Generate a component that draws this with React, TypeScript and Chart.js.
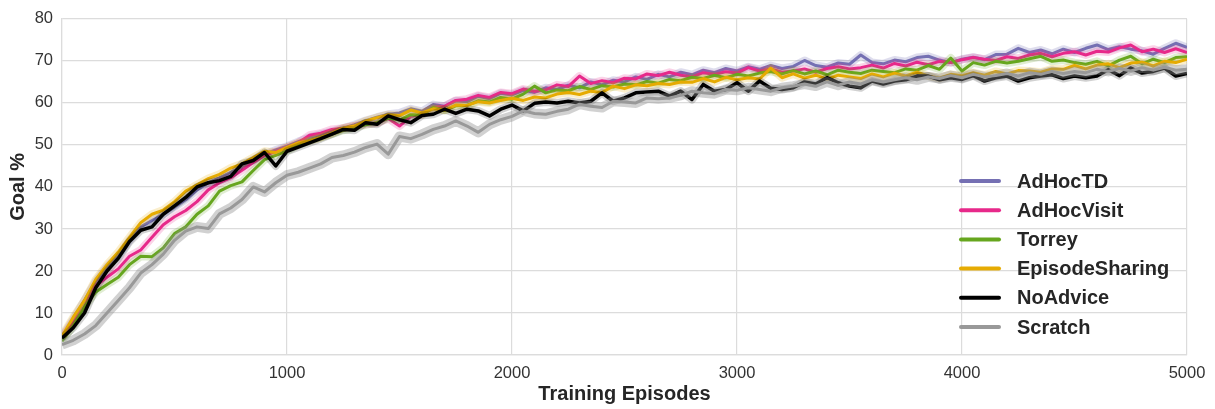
import React, { useEffect, useRef } from "react";
import { Chart, registerables } from "chart.js";

Chart.register(...registerables);

const FONT = "'Liberation Sans', Arial, Helvetica, sans-serif";

const SERIES_NAMES = ["AdHocTD", "AdHocVisit", "Torrey", "EpisodeSharing", "NoAdvice", "Scratch"];
const SERIES_COLORS = ["#7570b3", "#e7298a", "#66a61e", "#e6ab02", "#000000", "#999999"];
const BAND_COLORS = [
  "rgba(117,112,179,0.24)",
  "rgba(231,41,138,0.20)",
  "rgba(102,166,30,0.20)",
  "rgba(230,171,2,0.20)",
  "rgba(0,0,0,0.18)",
  "rgba(140,140,140,0.40)",
];
const BAND_WIDTHS = [8, 8, 8, 8, 8, 10];
const LINE_WIDTHS = [3, 3, 3, 3, 3.5, 3];

const EPISODE_STEP = 50;
const X_TICKS = [0, 1000, 2000, 3000, 4000, 5000];
const Y_TICKS = [0, 10, 20, 30, 40, 50, 60, 70, 80];

const adHocTD = [
  4.2, 8.5, 13, 17.5, 21, 23.5, 27.3, 30.5, 32, 33.5,
  35.2, 37, 39.3, 41, 42.2, 43.5, 44.8, 46.5, 47.8, 48.8,
  49.7, 50.8, 51.8, 52.5, 53.2, 54, 54.8, 55.8, 56.6, 57.3,
  57.6, 58.6, 58, 59.6, 59.2, 60.5, 60.3, 61.6, 61, 62.3,
  61.9, 63, 62.5, 63.6, 63.2, 64.2, 63.6, 65, 64.3, 65.4,
  65, 66.2, 65.6, 66.8, 66.2, 67.3, 66.7, 67.8, 67.2, 68.2,
  67.6, 68.6, 68, 68.9, 68.2, 68.7, 70.1, 68.9, 68.5, 69.5,
  69.2, 71.4, 69.6, 69.3, 70.2, 69.8, 70.8, 71.1, 70.2, 69.6,
  70.4, 70.9, 70.3, 71.5, 71.6, 73, 72, 72.6, 71.7, 72.8,
  72, 73, 73.8, 72.7, 73.4, 72.8, 72.4, 71.6, 73, 74.2,
  73.2,
];

const adHocVisit = [
  4, 8, 11.5, 16.5, 18.5, 20.5, 23.5, 25, 28, 31,
  32.9, 34.4, 36.5, 39.3, 41, 42.2, 44, 45.8, 47.5, 48.4,
  49.4, 50.5, 52.3, 52.8, 53.7, 54, 54.5, 54.9,
  55.2, 56.3, 54.5, 56.8, 57.2, 58.9, 59.2, 60.6, 60.9, 61.8,
  61.3, 62.5, 62.2, 63.3, 62.8, 63.1, 64.3, 63.9, 66.4, 64.6,
  65.3, 64.8, 65.9, 65.7, 66.9, 66.5, 67.3, 66.6, 66.2, 67.2,
  66.8, 67.4, 67.1, 68.4, 67.6, 68.1, 67.3, 67.6, 68.1, 67.3,
  68.2, 68.6, 68.1, 68.4, 69, 68.3, 69.4, 68.8, 69.7, 69.1,
  69.9, 69.6, 70.3, 70.8, 70.4, 70.1, 71, 70.6, 71.4, 71.8,
  71, 71.8, 72.2, 71.4, 72.3, 72.1, 73.1, 73.8, 72.2, 72.8,
  72, 72.9, 72,
];

const torrey = [
  3.3, 7, 11.5, 15, 16.8, 18.5, 21.5, 23.5, 23.4, 25.5,
  28.9, 30.5, 33.5, 35.5, 39, 40.3, 41.2, 43.9, 46.5, 47.5,
  48.6, 50, 51, 51.8, 52.6, 53.5, 54.1, 54.8,
  55.3, 56.4, 55.9, 57.2, 57.1, 58.9, 58.2, 59.3, 59.4, 60.5,
  60.2, 61.3, 60.9, 62.1, 64, 62.4, 63.1, 62.9, 63.9, 63.2,
  64.1, 63.8, 64.5, 64.3, 65.1, 64.7, 65.6, 65.3, 66.1, 65.8,
  66.6, 66, 66.8, 66.4, 67.1, 67.5, 66.9, 67.7, 66.9, 67.6,
  66.7, 67.8, 67.3, 67, 67.8, 67.5, 67.2, 68.1, 67.8, 68.9,
  68, 70.7, 67.6, 69.6, 69, 69.9, 69.5, 69.9, 70.5, 71.1,
  69.9, 70.2, 69.6, 69.2, 69.9, 68.8, 70.2, 71.1, 69.3, 70.4,
  69.6, 70.8, 71,
];

const episodeSharing = [
  4.5, 9, 13, 18, 21.5, 24.5, 28, 31.5, 33.5, 34.5,
  36.5, 39, 40.5, 42, 43, 44.5, 45.5, 47, 48.5, 48.2,
  49.4, 50.5, 51, 51.8, 52.8, 54, 54.5, 55.7,
  56.5, 57.2, 57, 58.3, 57.6, 58.6, 58.3, 59.5, 59.4, 60.3,
  60, 60.6, 61.1, 60.6, 61.4, 61.2, 62.1, 62.5, 62, 62.8,
  62.5, 64, 63.4, 64.3, 64.1, 64.6, 64.4, 65, 64.9, 65.8,
  65, 66.1, 65.5, 66, 65.7, 68.3, 66, 66.9, 65.9, 66.6,
  65.7, 66.6, 66.2, 65.8, 66.9, 66.2, 67.1, 66.4, 67.3, 66.4,
  65.9, 66.8, 66.5, 67.2, 66.6, 67.5, 66.9, 67.7, 67.6, 67.3,
  68.1, 68, 68.9, 68.1, 69, 69.3, 68.4, 69.5, 69.7, 68.8,
  69.9, 69.6, 70.4,
];

const noAdvice = [
  4, 6.5, 10, 16, 20, 23, 27, 29.7, 30.5, 33.5,
  35.5, 37.5, 40, 41, 41.5, 42.5, 45.5, 46.3, 48.2, 45,
  48.5, 49.5, 50.5, 51.5, 52.6, 53.7, 53.5, 55.3, 54.9, 56.9,
  56, 55.3, 57, 57.3, 58.5, 57.5, 58.5, 58.1, 56.9, 58.5,
  59.5, 58.1, 59.9, 60.2, 60, 60.4, 60, 60.4, 62.4, 60.4,
  61.2, 62.4, 62.6, 62.8, 61.6, 62.8, 60.8, 64.4, 62.8, 63.2,
  64.8, 62.8, 65.2, 63.5, 63.2, 63.6, 65, 64.5, 66, 64.8,
  64, 63.6, 65.2, 64.5, 65.2, 65.5, 66.4, 66.4, 65.5, 66,
  65.6, 66.5, 65.2, 66, 66.4, 65.2, 66, 66.4, 66.7, 65.8,
  66.4, 66, 66.4, 67.9, 66.5, 68.3, 67.1, 67.5, 68.3, 66.4,
  67,
];

const scratch = [
  2.5, 3.5, 5, 7, 10, 13, 16, 19.5, 21.5, 24,
  27.3, 29.5, 30.5, 30.1, 33.6, 35, 37, 40, 38.8, 41,
  42.8, 43.5, 44.5, 45.5, 47, 47.5, 48.3, 49.4, 50.2, 47.8,
  52, 51.5, 52.5, 53.7, 54.5, 55.7, 54.5, 53, 54.9, 56,
  56.8, 58.1, 57.5, 57.3, 58, 58.5, 59.7, 59.2, 58.9, 60.4,
  60.2, 60, 61.2, 61, 61.2, 61.8, 62.8, 62.4, 62.2, 63.2,
  63, 63.6, 63.2, 62.8, 63.6, 64, 64.5, 64, 65, 64.2,
  65, 64.5, 65.5, 65, 65.5, 66, 65.5, 66.2, 65.8, 66.5,
  66, 66.8, 66.2, 66.5, 67, 66.4, 67.2, 66.8, 67.5, 67,
  67.5, 67.2, 68, 67.5, 68.2, 67.6, 68.4, 67.8, 68.5, 67.8,
  68,
];

const SERIES_VALUES = [adHocTD, adHocVisit, torrey, episodeSharing, noAdvice, scratch];
const EPISODES = adHocTD.map((_, i) => i * EPISODE_STEP);

const insideLegend = {
  id: "insideLegend",
  afterDraw(chart: any) {
    const { ctx, chartArea } = chart;
    const x0 = chartArea.right - 226;
    const y0 = chartArea.bottom - 174;
    ctx.save();
    SERIES_NAMES.forEach((name, i) => {
      const y = y0 + i * 29.2;
      ctx.strokeStyle = SERIES_COLORS[i];
      ctx.lineWidth = 4;
      ctx.lineCap = "round";
      ctx.beginPath();
      ctx.moveTo(x0, y);
      ctx.lineTo(x0 + 38, y);
      ctx.stroke();
      ctx.fillStyle = "#262626";
      ctx.font = `bold 20px ${FONT}`;
      ctx.textBaseline = "middle";
      ctx.textAlign = "left";
      ctx.fillText(name, x0 + 56, y + 1);
    });
    ctx.restore();
  },
};

export default function App() {
  const canvasRef = useRef<HTMLCanvasElement | null>(null);

  useEffect(() => {
    if (!canvasRef.current) return;
    const datasets: any[] = [];
    SERIES_NAMES.forEach((name, i) => {
      const pts = SERIES_VALUES[i].map((v, k) => ({ x: EPISODES[k], y: v }));
      datasets.push({
        label: name + " band",
        data: pts,
        borderColor: BAND_COLORS[i],
        borderWidth: BAND_WIDTHS[i],
        borderJoinStyle: "round",
        pointRadius: 0,
        fill: false,
        tension: 0,
      });
      datasets.push({
        label: name,
        data: pts,
        borderColor: SERIES_COLORS[i],
        borderWidth: LINE_WIDTHS[i],
        borderJoinStyle: "round",
        pointRadius: 0,
        fill: false,
        tension: 0,
      });
    });
    const n = datasets.length;
    datasets.forEach((d, k) => (d.order = n - k));

    const chart = new Chart(canvasRef.current, {
      type: "line",
      data: { datasets },
      options: {
        animation: false,
        responsive: true,
        maintainAspectRatio: false,
        layout: { padding: { top: 17, right: 28, bottom: 0, left: 0 } },
        plugins: {
          legend: { display: false },
          tooltip: { enabled: false },
        },
        scales: {
          x: {
            type: "linear",
            min: 0,
            max: 5000,
            afterFit: (s: any) => {
              s.height = 54;
            },
            afterBuildTicks: (s: any) => {
              s.ticks = X_TICKS.map((v) => ({ value: v }));
            },
            ticks: {
              color: "#333333",
              font: { family: FONT, size: 16.5 },
              padding: 9,
              maxRotation: 0,
              callback: (v: any) => String(v),
            },
            grid: { color: "#dcdcdc", lineWidth: 1.2, drawTicks: false },
            border: { display: true, color: "#dcdcdc", width: 1.2 },
            title: {
              display: true,
              text: "Training Episodes",
              color: "#262626",
              font: { family: FONT, size: 20, weight: "bold" },
              padding: { top: 0, bottom: 3 },
            },
          },
          y: {
            type: "linear",
            min: 0,
            max: 80,
            afterFit: (s: any) => {
              s.width = 62;
            },
            afterBuildTicks: (s: any) => {
              s.ticks = Y_TICKS.map((v) => ({ value: v }));
            },
            ticks: {
              color: "#333333",
              font: { family: FONT, size: 16.5 },
              padding: 9,
              callback: (v: any) => String(v),
            },
            grid: { color: "#dcdcdc", lineWidth: 1.2, drawTicks: false },
            border: { display: true, color: "#dcdcdc", width: 1.2 },
            title: {
              display: true,
              text: "Goal %",
              color: "#262626",
              font: { family: FONT, size: 20, weight: "bold" },
              padding: { top: 6, bottom: 0 },
            },
          },
        },
      },
      plugins: [insideLegend],
    });
    return () => chart.destroy();
  }, []);

  return (
    <div style={{ position: "absolute", left: 0, top: 0, width: 1215, height: 409, background: "#ffffff" }}>
      <canvas ref={canvasRef} />
    </div>
  );
}
